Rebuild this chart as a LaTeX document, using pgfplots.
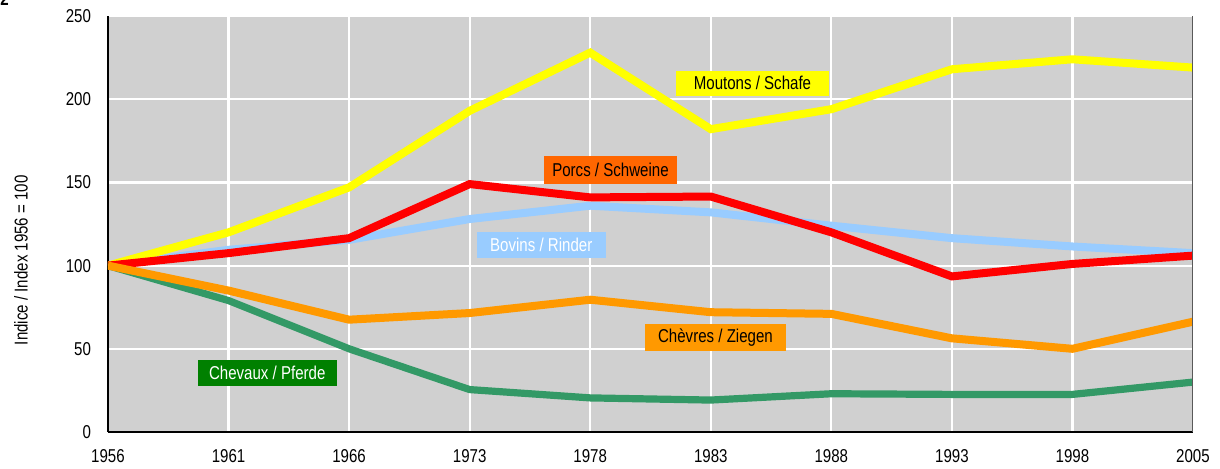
\documentclass[border=0pt]{standalone}
\usepackage{fontspec}
\setmainfont{Liberation Sans}[FakeStretch=0.81]
\usepackage{pgfplots}
\pgfplotsset{compat=1.18}

\definecolor{bgGray}{HTML}{D0D0D0}
\definecolor{sheepY}{HTML}{FFFF00}
\definecolor{pigR}{HTML}{FF0000}
\definecolor{pigBox}{HTML}{FF6600}
\definecolor{cattleB}{HTML}{99CCFF}
\definecolor{goatO}{HTML}{FF9900}
\definecolor{horseG}{HTML}{339966}
\definecolor{horseBox}{HTML}{008000}

\begin{document}
\begin{tikzpicture}[font=\fontsize{9.3}{11}\selectfont]
% page frame: 1 px of the reference = 0.5pt
\useasboundingbox (-54pt,-18pt) rectangle (556pt,216pt);
\node[anchor=base west, font=\fontsize{9.3}{11}\selectfont\bfseries, inner sep=0pt] at (-54pt,213.5pt) {2};

\begin{axis}[
    at={(0,0)}, anchor=south west,
    scale only axis,
    width=542.5pt, height=208pt,
    xmin=0, xmax=9, ymin=0, ymax=250,
    enlargelimits=false,
    axis background/.style={fill=bgGray},
    axis x line*=bottom, axis y line*=left,
    axis line style={-, black, line width=0.8pt},
    major tick length=0pt,
    xtick={0,...,9},
    xticklabels={1956,1961,1966,1973,1978,1983,1988,1993,1998,2005},
    ytick={0,50,100,150,200,250},
    grid=major,
    grid style={white, line width=1.1pt},
    /pgf/number format/assume math mode=true,
    xticklabel style={yshift=-5pt},
    yticklabel style={xshift=-5pt},
    ylabel={Indice / Index 1956 = 100},
    ylabel style={at={(axis description cs:-0.0802,0.413)}, anchor=center},
    every axis plot/.append style={line width=4pt, mark=none},
]

% Bovins / Rinder
\addplot[cattleB] coordinates {
  (0,100) (1,109.5) (2,115.5) (3,128) (4,136) (5,132) (6,124) (7,116.5) (8,111.5) (9,107.5)
};
% Moutons / Schafe
\addplot[sheepY] coordinates {
  (0,100) (1,120) (2,147) (3,193) (4,228) (5,182) (6,194) (7,218) (8,224) (9,219)
};
% Porcs / Schweine
\addplot[pigR] coordinates {
  (0,100) (1,107.5) (2,116.5) (3,149) (4,141) (5,141.5) (6,120) (7,93.5) (8,101) (9,106)
};
% Chevaux / Pferde
\addplot[horseG, line width=3.6pt] coordinates {
  (0,100) (1,79) (2,50) (3,25.5) (4,20.5) (5,19.2) (6,23) (7,22.6) (8,22.6) (9,30)
};
% Chevres / Ziegen
\addplot[goatO] coordinates {
  (0,100) (1,85) (2,67.5) (3,71.5) (4,79.5) (5,72) (6,71) (7,56.3) (8,50) (9,66.3)
};

% right edge of the plot area
\draw[gray!70!black, line width=0.8pt] (rel axis cs:1,0) -- (rel axis cs:1,1);

% series labels
\node[fill=sheepY, text=black, minimum width=76.5pt, minimum height=12.3pt, inner sep=0pt]
  at (axis cs:5.346,209.6) {Moutons / Schafe};
\node[fill=pigBox, text=black, minimum width=66.5pt, minimum height=14.3pt, inner sep=0pt]
  at (axis cs:4.168,157.5) {Porcs / Schweine};
\node[fill=cattleB, text=white, minimum width=64.3pt, minimum height=13.2pt, inner sep=0pt]
  at (axis cs:3.594,112.4) {Bovins / Rinder};
\node[fill=goatO, text=black, minimum width=70.5pt, minimum height=13.3pt, inner sep=0pt]
  at (axis cs:5.039,56.9) {Chèvres / Ziegen};
\node[fill=horseBox, text=white, minimum width=69.7pt, minimum height=12.8pt, inner sep=0pt]
  at (axis cs:1.321,35.6) {Chevaux / Pferde};
\end{axis}
\end{tikzpicture}
\end{document}
